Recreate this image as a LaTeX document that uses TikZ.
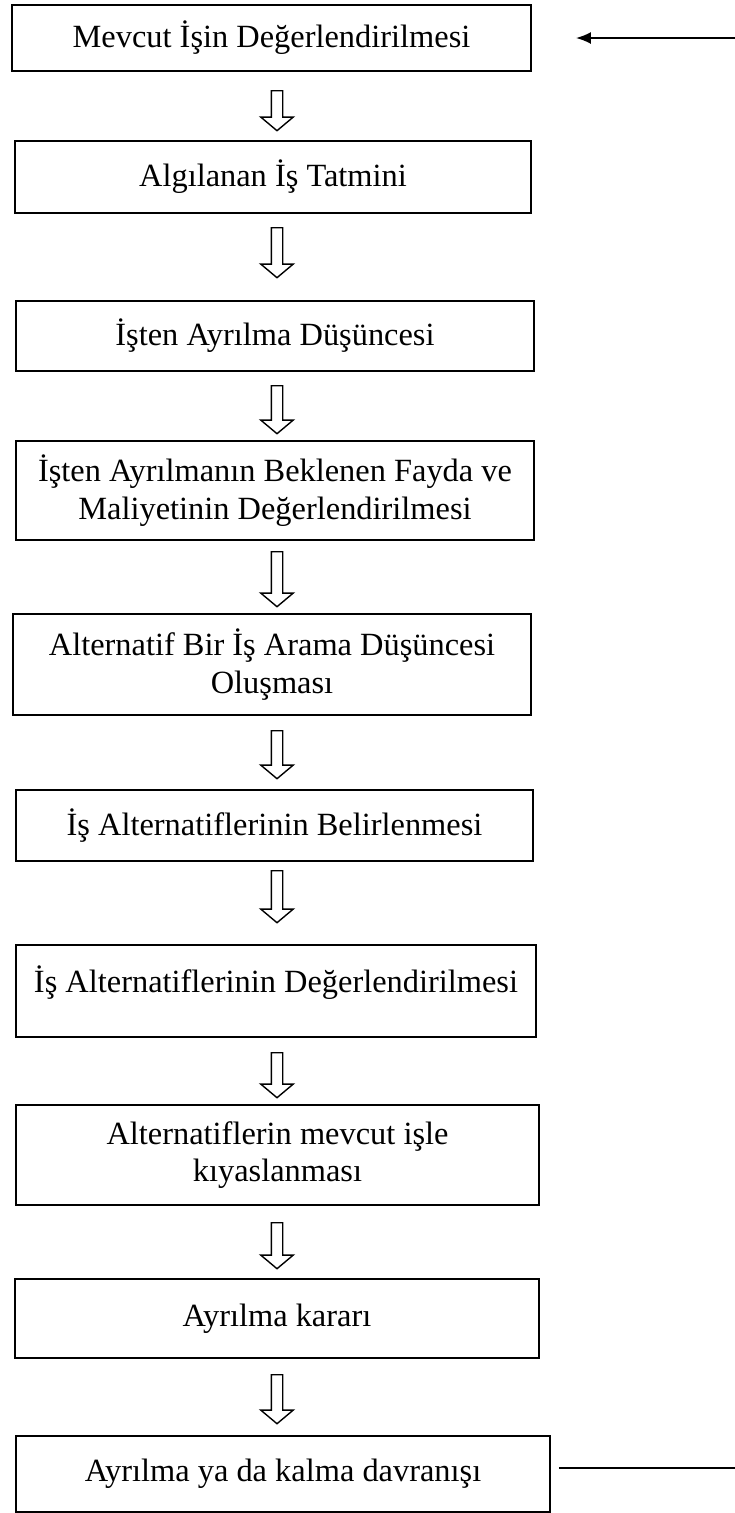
\documentclass[tikz,border=0pt]{standalone}
\usepackage{fontspec}
\setmainfont{Liberation Serif}
\usetikzlibrary{arrows.meta, positioning, shapes.arrows}

\begin{document}
\begin{tikzpicture}[
    x=1pt, y=-1pt,
    font=\fontsize{32.4}{37.3}\selectfont,
    stage/.style={draw=black, line width=1.8pt, align=center, inner sep=0pt},
    flow/.style={single arrow, draw=black, line width=1.4pt, fill=white, shape border rotate=270, inner sep=5pt, single arrow head extend=10.5pt, single arrow tip angle=100, anchor=tail},
    ar/.style={-{Latex[length=15pt, width=12pt]}, line width=2pt}
  ]
    \useasboundingbox (0,0) rectangle (735,1513);
    % stages, top to bottom
    \node[stage, minimum width=519pt, minimum height=66pt] (eval) at (271.5,38) {Mevcut İşin Değerlendirilmesi};
    \node[stage, minimum width=516pt, minimum height=72pt] (satis) at (273,177) {Algılanan İş Tatmini};
    \node[stage, minimum width=518pt, minimum height=70pt] (quit) at (275,336) {İşten Ayrılma Düşüncesi};
    \node[stage, minimum width=518pt, minimum height=99pt] (cost) at (275,490.5) {İşten Ayrılmanın Beklenen Fayda ve\\Maliyetinin Değerlendirilmesi};
    \node[stage, minimum width=518pt, minimum height=101pt] (search) at (272,664.5) {Alternatif Bir İş Arama Düşüncesi\\Oluşması};
    \node[stage, minimum width=517pt, minimum height=71pt] (alts) at (274.5,825.5) {İş Alternatiflerinin Belirlenmesi};
    \node[stage, minimum width=520pt, minimum height=92pt, text depth=24pt] (altval) at (276,991) {İş Alternatiflerinin Değerlendirilmesi};
    \node[stage, minimum width=523pt, minimum height=100pt] (compare) at (277.5,1155) {Alternatiflerin mevcut işle\\kıyaslanması};
    \node[stage, minimum width=524pt, minimum height=79pt] (decide) at (277,1318.5) {Ayrılma kararı};
    \node[stage, minimum width=534pt, minimum height=76pt] (act) at (283,1474) {Ayrılma ya da kalma davranışı};
    % hollow arrows between stages
    \node[flow, minimum height=40pt] (f1) at (277,90) {};
    \node[flow, minimum height=50pt] (f2) at (277,227) {};
    \node[flow, minimum height=48pt] (f3) at (277,385) {};
    \node[flow, minimum height=55pt] (f4) at (277,551) {};
    \node[flow, minimum height=48pt] (f5) at (277,730) {};
    \node[flow, minimum height=52pt] (f6) at (277,870) {};
    \node[flow, minimum height=45pt] (f7) at (277,1052) {};
    \node[flow, minimum height=46pt] (f8) at (277,1222) {};
    \node[flow, minimum height=49pt] (f9) at (277,1374) {};
    % feedback ends
    \coordinate (back) at (735,38);
    \coordinate (out) at (735,1468);
    \draw[ar] (back) -- ([xshift=44pt]eval.east);
    \draw[line width=2pt] ([xshift=8pt, yshift=6pt]act.east) -- (out);
\end{tikzpicture}
\end{document}
